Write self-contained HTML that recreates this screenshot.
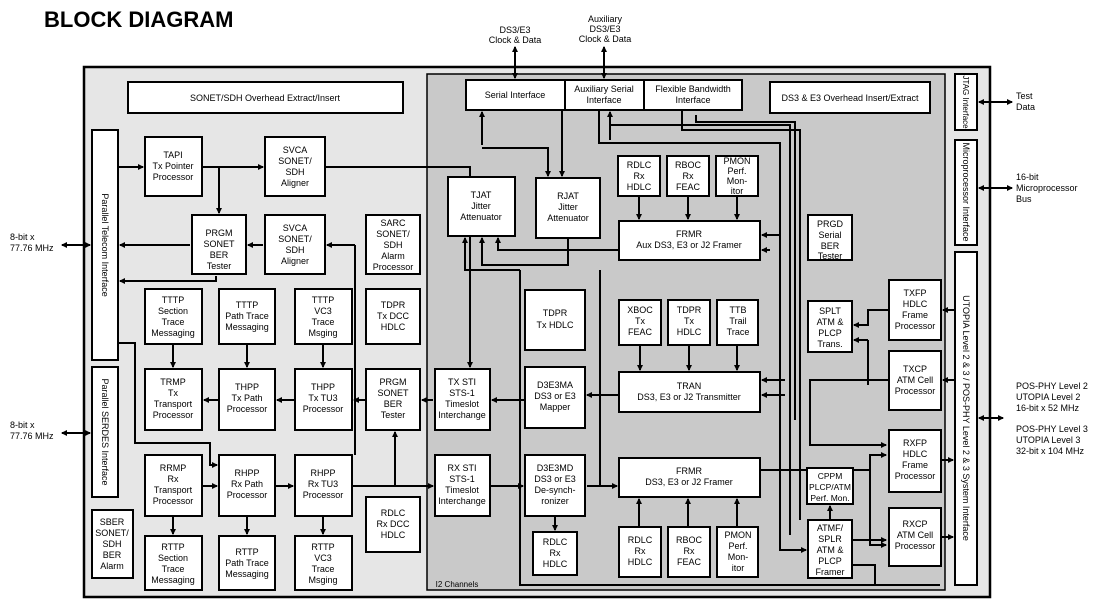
<!DOCTYPE html>
<html><head><meta charset="utf-8"><style>
body{margin:0;background:#fff;}
svg{display:block;font-family:"Liberation Sans",sans-serif;}
.b{fill:#fff;stroke:#000;stroke-width:2;}
text{font-size:9px;text-anchor:middle;fill:#000;}
.l{stroke:#000;stroke-width:2;fill:none;}
</style></head><body>
<svg width="1107" height="610" viewBox="0 0 1107 610">
<defs><marker id="a" markerWidth="6" markerHeight="6" refX="5" refY="3" orient="auto" markerUnits="userSpaceOnUse" viewBox="0 0 6 6"><path d="M0,0L6,3L0,6z" fill="#000"/></marker>
<marker id="s" markerWidth="6" markerHeight="6" refX="1" refY="3" orient="auto" markerUnits="userSpaceOnUse" viewBox="0 0 6 6"><path d="M6,0L0,3L6,6z" fill="#000"/></marker></defs>
<text x="44" y="27" style="font-size:22px;font-weight:bold;text-anchor:start">BLOCK DIAGRAM</text>
<rect x="84" y="67" width="906" height="530" fill="#e6e6e6" stroke="#000" stroke-width="2.5"/>
<rect x="427" y="74" width="518" height="516" fill="#c9c9c9" stroke="#000" stroke-width="1.5"/>
<text x="457" y="587" style="font-size:8px">I2 Channels</text>

<g class="l" marker-end="url(#a)" marker-start="url(#s)">
<line x1="515" y1="47" x2="515" y2="78"/><line x1="604" y1="47" x2="604" y2="78"/>
</g>
<g class="l"><line x1="62" y1="245" x2="90" y2="245" marker-end="url(#a)" marker-start="url(#s)"/>
<line x1="62" y1="433" x2="90" y2="433" marker-end="url(#a)" marker-start="url(#s)"/>
<line x1="979" y1="102" x2="1012" y2="102" marker-end="url(#a)" marker-start="url(#s)"/>
<line x1="979" y1="188" x2="1012" y2="188" marker-end="url(#a)" marker-start="url(#s)"/>
<line x1="979" y1="418" x2="1003" y2="418" marker-end="url(#a)" marker-start="url(#s)"/>
</g>
<g style="text-anchor:start">
<text x="10" y="240" style="text-anchor:start">8-bit x</text><text x="10" y="251" style="text-anchor:start">77.76 MHz</text>
<text x="10" y="428" style="text-anchor:start">8-bit x</text><text x="10" y="439" style="text-anchor:start">77.76 MHz</text>
<text x="1016" y="99" style="text-anchor:start">Test</text><text x="1016" y="110" style="text-anchor:start">Data</text>
<text x="1016" y="180" style="text-anchor:start">16-bit</text><text x="1016" y="191" style="text-anchor:start">Microprocessor</text><text x="1016" y="202" style="text-anchor:start">Bus</text>
<text x="1016" y="389" style="text-anchor:start">POS-PHY Level 2</text><text x="1016" y="400" style="text-anchor:start">UTOPIA Level 2</text><text x="1016" y="411" style="text-anchor:start">16-bit x 52 MHz</text>
<text x="1016" y="432" style="text-anchor:start">POS-PHY Level 3</text><text x="1016" y="443" style="text-anchor:start">UTOPIA Level 3</text><text x="1016" y="454" style="text-anchor:start">32-bit x 104 MHz</text>
</g>
<text x="515" y="33">DS3/E3</text><text x="515" y="43">Clock &amp; Data</text>
<text x="605" y="22">Auxiliary</text><text x="605" y="32">DS3/E3</text><text x="605" y="42">Clock &amp; Data</text>

<g class="l">
<path d="M118,167H143" marker-end="url(#a)"/>
<path d="M202,167H263" marker-end="url(#a)"/>
<path d="M219,167V213" marker-end="url(#a)"/>
<path d="M325,167H470V367" marker-end="url(#a)"/>
<path d="M190,245H120" marker-end="url(#a)"/>
<path d="M263,245H248" marker-end="url(#a)"/>
<path d="M355,245H340" /><path d="M355,245V455"/><path d="M340,245H327" marker-end="url(#a)"/>
<path d="M216,276V281H120" marker-end="url(#a)"/>
<path d="M173,344V367" marker-end="url(#a)"/>
<path d="M247,344V367" marker-end="url(#a)"/>
<path d="M323,344V367" marker-end="url(#a)"/>
<path d="M433,400H422" marker-end="url(#a)"/>
<path d="M366,400H354" marker-end="url(#a)"/>
<path d="M295,400H277" marker-end="url(#a)"/>
<path d="M219,400H204" marker-end="url(#a)"/>
<path d="M118,343H135V443H210V465H217" marker-end="url(#a)"/>
<path d="M202,486H217" marker-end="url(#a)"/>
<path d="M275,486H293" marker-end="url(#a)"/>
<path d="M352,486H433" marker-end="url(#a)"/>
<path d="M395,486V432" marker-end="url(#a)"/>
<path d="M173,516V534" marker-end="url(#a)"/>
<path d="M247,516V534" marker-end="url(#a)"/>
<path d="M323,516V534" marker-end="url(#a)"/>
<path d="M490,486H523" marker-end="url(#a)"/>
<path d="M525,400H492" marker-end="url(#a)"/>
<path d="M555,516V530" marker-end="url(#a)"/>
<path d="M482,145V112" marker-end="url(#a)"/>
<path d="M482,148H548V176" marker-end="url(#a)"/>
<path d="M562,110V176" marker-end="url(#a)"/>
<path d="M599,110V143H780V550H806" marker-end="url(#a)"/>
<path d="M610,140V125H790V535"/>
<path d="M610,128V112" marker-end="url(#a)"/>
<path d="M682,110V130H800V520"/><path d="M696,115V122H795V420"/>
<path d="M639,196V219" marker-end="url(#a)"/><path d="M688,196V219" marker-end="url(#a)"/><path d="M737,196V219" marker-end="url(#a)"/>
<path d="M619,250H498V238" marker-end="url(#a)"/>
<path d="M568,238V265H482V238" marker-end="url(#a)"/>
<path d="M520,270H465V238" marker-end="url(#a)"/>
<path d="M780,235H762" marker-end="url(#a)"/><path d="M770,250H762" marker-end="url(#a)"/>
<path d="M520,270V585H940"/>
<path d="M640,345V370" marker-end="url(#a)"/><path d="M689,345V370" marker-end="url(#a)"/><path d="M737,345V370" marker-end="url(#a)"/>
<path d="M619,395H587" marker-end="url(#a)"/>
<path d="M785,380H762" marker-end="url(#a)"/><path d="M785,395H762" marker-end="url(#a)"/>
<path d="M889,310H868V325H854" marker-end="url(#a)"/>
<path d="M868,340H854" marker-end="url(#a)"/><path d="M868,340V385"/>
<path d="M889,380H810V445H886" marker-end="url(#a)"/>
<path d="M587,486H617" marker-end="url(#a)"/>
<path d="M600,270V486"/><path d="M760,470H870V455H886" marker-end="url(#a)"/>
<path d="M870,470V545H886" marker-end="url(#a)"/><path d="M852,540H886" marker-end="url(#a)"/>
<path d="M830,520V506" marker-end="url(#a)"/>
<path d="M639,527V499" marker-end="url(#a)"/><path d="M688,527V499" marker-end="url(#a)"/><path d="M737,527V499" marker-end="url(#a)"/>
<path d="M940,460H953" marker-end="url(#a)"/><path d="M940,537H953" marker-end="url(#a)"/>
<path d="M955,310H943" marker-end="url(#a)"/><path d="M955,380H943" marker-end="url(#a)"/>
<path d="M520,585V575"/><path d="M852,565H875V585"/>
</g>

<g>
<rect class="b" x="128" y="82" width="275" height="31"/><text x="265" y="101">SONET/SDH Overhead Extract/Insert</text>
<rect class="b" x="92" y="130" width="26" height="230"/><text transform="translate(102,245) rotate(90)">Parallel Telecom Interface</text>
<rect class="b" x="92" y="367" width="26" height="130"/><text transform="translate(102,432) rotate(90)">Parallel SERDES Interface</text>
<rect class="b" x="955" y="74" width="22" height="56"/><text transform="translate(963,102) rotate(90)" style="font-size:8px">JTAG Interface</text>
<rect class="b" x="955" y="140" width="22" height="105"/><text transform="translate(963,192) rotate(90)">Microprocessor Interface</text>
<rect class="b" x="955" y="252" width="22" height="333"/><text transform="translate(963,418) rotate(90)">UTOPIA Level 2 &amp; 3 / POS-PHY Level 2 &amp; 3 System Interface</text>
<rect class="b" x="466" y="80" width="99" height="30"/><text x="515" y="98">Serial Interface</text>
<rect class="b" x="565" y="80" width="79" height="30"/><text x="604" y="92">Auxiliary Serial</text><text x="604" y="103">Interface</text>
<rect class="b" x="644" y="80" width="98" height="30"/><text x="693" y="92">Flexible Bandwidth</text><text x="693" y="103">Interface</text>
<rect class="b" x="770" y="82" width="160" height="31"/><text x="850" y="101">DS3 &amp; E3 Overhead Insert/Extract</text>
</g>
<g>
<rect class="b" x="145" y="137" width="57" height="59"/><text x="173" y="158">TAPI</text><text x="173" y="169">Tx Pointer</text><text x="173" y="180">Processor</text>
<rect class="b" x="265" y="137" width="60" height="59"/><text x="295" y="153">SVCA</text><text x="295" y="164">SONET/</text><text x="295" y="175">SDH</text><text x="295" y="186">Aligner</text>
<rect class="b" x="192" y="215" width="54" height="59"/><text x="219" y="236">PRGM</text><text x="219" y="247">SONET</text><text x="219" y="258">BER</text><text x="219" y="269">Tester</text>
<rect class="b" x="265" y="215" width="60" height="59"/><text x="295" y="231">SVCA</text><text x="295" y="242">SONET/</text><text x="295" y="253">SDH</text><text x="295" y="264">Aligner</text>
<rect class="b" x="366" y="215" width="54" height="59"/><text x="393" y="226">SARC</text><text x="393" y="237">SONET/</text><text x="393" y="248">SDH</text><text x="393" y="259">Alarm</text><text x="393" y="270">Processor</text>
<rect class="b" x="145" y="289" width="57" height="55"/><text x="173" y="303">TTTP</text><text x="173" y="314">Section</text><text x="173" y="325">Trace</text><text x="173" y="336">Messaging</text>
<rect class="b" x="219" y="289" width="56" height="55"/><text x="247" y="308">TTTP</text><text x="247" y="319">Path Trace</text><text x="247" y="330">Messaging</text>
<rect class="b" x="295" y="289" width="57" height="55"/><text x="323" y="303">TTTP</text><text x="323" y="314">VC3</text><text x="323" y="325">Trace</text><text x="323" y="336">Msging</text>
<rect class="b" x="366" y="289" width="54" height="55"/><text x="393" y="308">TDPR</text><text x="393" y="319">Tx DCC</text><text x="393" y="330">HDLC</text>
<rect class="b" x="145" y="369" width="57" height="61"/><text x="173" y="385">TRMP</text><text x="173" y="396">Tx</text><text x="173" y="407">Transport</text><text x="173" y="418">Processor</text>
<rect class="b" x="219" y="369" width="56" height="61"/><text x="247" y="390">THPP</text><text x="247" y="401">Tx Path</text><text x="247" y="412">Processor</text>
<rect class="b" x="295" y="369" width="57" height="61"/><text x="323" y="390">THPP</text><text x="323" y="401">Tx TU3</text><text x="323" y="412">Processor</text>
<rect class="b" x="366" y="369" width="54" height="61"/><text x="393" y="385">PRGM</text><text x="393" y="396">SONET</text><text x="393" y="407">BER</text><text x="393" y="418">Tester</text>
<rect class="b" x="435" y="369" width="55" height="61"/><text x="462" y="385">TX STI</text><text x="462" y="396">STS-1</text><text x="462" y="407">Timeslot</text><text x="462" y="418">Interchange</text>
<rect class="b" x="145" y="455" width="57" height="61"/><text x="173" y="471">RRMP</text><text x="173" y="482">Rx</text><text x="173" y="493">Transport</text><text x="173" y="504">Processor</text>
<rect class="b" x="219" y="455" width="56" height="61"/><text x="247" y="476">RHPP</text><text x="247" y="487">Rx Path</text><text x="247" y="498">Processor</text>
<rect class="b" x="295" y="455" width="57" height="61"/><text x="323" y="476">RHPP</text><text x="323" y="487">Rx TU3</text><text x="323" y="498">Processor</text>
<rect class="b" x="435" y="455" width="55" height="61"/><text x="462" y="471">RX STI</text><text x="462" y="482">STS-1</text><text x="462" y="493">Timeslot</text><text x="462" y="504">Interchange</text>
<rect class="b" x="366" y="497" width="54" height="55"/><text x="393" y="516">RDLC</text><text x="393" y="527">Rx DCC</text><text x="393" y="538">HDLC</text>
<rect class="b" x="92" y="510" width="41" height="68"/><text x="112" y="525">SBER</text><text x="112" y="536">SONET/</text><text x="112" y="547">SDH</text><text x="112" y="558">BER</text><text x="112" y="569">Alarm</text>
<rect class="b" x="145" y="536" width="57" height="54"/><text x="173" y="550">RTTP</text><text x="173" y="561">Section</text><text x="173" y="572">Trace</text><text x="173" y="583">Messaging</text>
<rect class="b" x="219" y="536" width="56" height="54"/><text x="247" y="555">RTTP</text><text x="247" y="566">Path Trace</text><text x="247" y="577">Messaging</text>
<rect class="b" x="295" y="536" width="57" height="54"/><text x="323" y="550">RTTP</text><text x="323" y="561">VC3</text><text x="323" y="572">Trace</text><text x="323" y="583">Msging</text>
<rect class="b" x="448" y="177" width="67" height="59"/><text x="481" y="198">TJAT</text><text x="481" y="209">Jitter</text><text x="481" y="220">Attenuator</text>
<rect class="b" x="536" y="178" width="64" height="60"/><text x="568" y="199">RJAT</text><text x="568" y="210">Jitter</text><text x="568" y="221">Attenuator</text>
<rect class="b" x="618" y="156" width="42" height="40"/><text x="639" y="168">RDLC</text><text x="639" y="179">Rx</text><text x="639" y="190">HDLC</text>
<rect class="b" x="667" y="156" width="42" height="40"/><text x="688" y="168">RBOC</text><text x="688" y="179">Rx</text><text x="688" y="190">FEAC</text>
<rect class="b" x="716" y="156" width="42" height="40"/><text x="737" y="164">PMON</text><text x="737" y="174">Perf.</text><text x="737" y="184">Mon-</text><text x="737" y="194">itor</text>
<rect class="b" x="619" y="221" width="141" height="39"/><text x="689" y="237">FRMR</text><text x="689" y="248">Aux DS3, E3 or J2 Framer</text>
<rect class="b" x="808" y="215" width="44" height="45"/><text x="830" y="227">PRGD</text><text x="830" y="238">Serial</text><text x="830" y="249">BER</text><text x="830" y="259">Tester</text>
<rect class="b" x="525" y="290" width="60" height="60"/><text x="555" y="316">TDPR</text><text x="555" y="328">Tx HDLC</text>
<rect class="b" x="619" y="300" width="42" height="45"/><text x="640" y="313">XBOC</text><text x="640" y="324">Tx</text><text x="640" y="335">FEAC</text>
<rect class="b" x="668" y="300" width="42" height="45"/><text x="689" y="313">TDPR</text><text x="689" y="324">Tx</text><text x="689" y="335">HDLC</text>
<rect class="b" x="717" y="300" width="41" height="45"/><text x="738" y="313">TTB</text><text x="738" y="324">Trail</text><text x="738" y="335">Trace</text>
<rect class="b" x="525" y="367" width="60" height="61"/><text x="555" y="388">D3E3MA</text><text x="555" y="399">DS3 or E3</text><text x="555" y="410">Mapper</text>
<rect class="b" x="619" y="372" width="141" height="40"/><text x="689" y="389">TRAN</text><text x="689" y="400">DS3, E3 or J2 Transmitter</text>
<rect class="b" x="808" y="301" width="44" height="51"/><text x="830" y="314">SPLT</text><text x="830" y="325">ATM &amp;</text><text x="830" y="336">PLCP</text><text x="830" y="347">Trans.</text>
<rect class="b" x="889" y="280" width="52" height="60"/><text x="915" y="296">TXFP</text><text x="915" y="307">HDLC</text><text x="915" y="318">Frame</text><text x="915" y="329">Processor</text>
<rect class="b" x="889" y="351" width="52" height="59"/><text x="915" y="372">TXCP</text><text x="915" y="383">ATM Cell</text><text x="915" y="394">Processor</text>
<rect class="b" x="525" y="455" width="60" height="61"/><text x="555" y="471">D3E3MD</text><text x="555" y="482">DS3 or E3</text><text x="555" y="493">De-synch-</text><text x="555" y="504">ronizer</text>
<rect class="b" x="619" y="458" width="141" height="39"/><text x="689" y="474">FRMR</text><text x="689" y="485">DS3, E3 or J2 Framer</text>
<rect class="b" x="533" y="532" width="44" height="43"/><text x="555" y="545">RDLC</text><text x="555" y="556">Rx</text><text x="555" y="567">HDLC</text>
<rect class="b" x="619" y="527" width="42" height="50"/><text x="640" y="543">RDLC</text><text x="640" y="554">Rx</text><text x="640" y="565">HDLC</text>
<rect class="b" x="668" y="527" width="42" height="50"/><text x="689" y="543">RBOC</text><text x="689" y="554">Rx</text><text x="689" y="565">FEAC</text>
<rect class="b" x="717" y="527" width="41" height="50"/><text x="738" y="538">PMON</text><text x="738" y="549">Perf.</text><text x="738" y="560">Mon-</text><text x="738" y="571">itor</text>
<rect class="b" x="807" y="468" width="46" height="36"/><text x="830" y="479" style="font-size:8.5px">CPPM</text><text x="830" y="490" style="font-size:8.5px">PLCP/ATM</text><text x="830" y="501" style="font-size:8.5px">Perf. Mon.</text>
<rect class="b" x="808" y="520" width="44" height="58"/><text x="830" y="531">ATMF/</text><text x="830" y="542">SPLR</text><text x="830" y="553">ATM &amp;</text><text x="830" y="564">PLCP</text><text x="830" y="575">Framer</text>
<rect class="b" x="889" y="430" width="52" height="62"/><text x="915" y="446">RXFP</text><text x="915" y="457">HDLC</text><text x="915" y="468">Frame</text><text x="915" y="479">Processor</text>
<rect class="b" x="889" y="508" width="52" height="58"/><text x="915" y="527">RXCP</text><text x="915" y="538">ATM Cell</text><text x="915" y="549">Processor</text>
</g>
</svg>
</body></html>
